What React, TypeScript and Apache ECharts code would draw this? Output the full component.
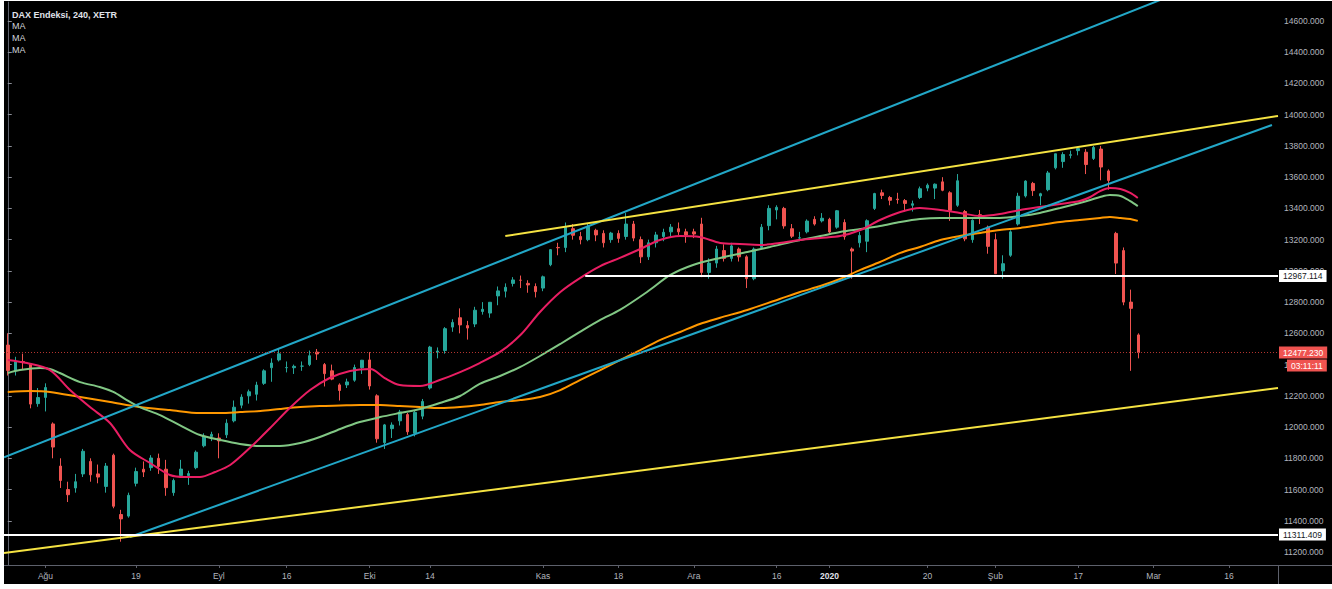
import React, { useEffect, useRef } from "react";
import * as echarts from "echarts";

// [open, high, low, close] per trading-day slot
const ohlc: number[][] = [
  [12525,12600,12330,12362],[12360,12450,12330,12419],[12420,12470,12370,12418],[12400,12410,12120,12147],
  [12150,12250,12130,12189],[12190,12280,12100,12253],[12020,12030,11800,11872],[11750,11800,11610,11658],
  [11600,11650,11520,11567],[11610,11700,11580,11650],[11700,11860,11680,11845],[11780,11800,11650,11694],
  [11700,11760,11640,11680],[11620,11770,11580,11750],[11820,11830,11480,11493],[11440,11470,11266,11412],
  [11430,11580,11420,11563],[11640,11740,11620,11715],[11730,11780,11680,11712],[11740,11820,11720,11802],
  [11800,11830,11700,11748],[11730,11790,11560,11612],[11580,11670,11560,11658],[11690,11790,11680,11731],
  [11690,11720,11630,11702],[11740,11850,11730,11839],[11880,11960,11870,11939],[11940,11970,11910,11953],
  [11930,11960,11800,11911],[11950,12050,11930,12025],[12040,12170,12030,12127],[12140,12210,12120,12192],
  [12200,12240,12150,12226],[12210,12290,12170,12269],[12280,12370,12270,12360],[12380,12440,12290,12410],
  [12430,12500,12420,12469],[12380,12420,12350,12381],[12380,12400,12340,12389],[12390,12420,12360,12390],
  [12400,12490,12390,12457],[12480,12500,12430,12468],[12400,12410,12260,12342],[12360,12400,12300,12307],
  [12270,12280,12170,12234],[12270,12310,12250,12289],[12300,12400,12290,12381],[12380,12430,12340,12428],
  [12430,12480,12240,12263],[12200,12210,11900,11925],[11900,12020,11860,12014],[11990,12030,11930,12013],
  [12040,12110,12010,12097],[12080,12090,11950,11970],[11960,12110,11940,12094],[12070,12180,12050,12164],
  [12250,12520,12240,12512],[12480,12510,12440,12487],[12490,12640,12470,12630],[12640,12690,12610,12670],
  [12700,12760,12600,12654],[12650,12680,12560,12634],[12660,12770,12640,12748],[12740,12800,12720,12754],
  [12730,12800,12700,12799],[12840,12900,12780,12872],[12870,12920,12830,12895],[12920,12960,12900,12942],
  [12940,12970,12890,12940],[12920,12940,12860,12910],[12900,12920,12830,12867],[12890,12970,12870,12962],
  [13040,13140,13030,13136],[13150,13180,13100,13148],[13150,13310,13120,13280],[13270,13300,13200,13228],
  [13220,13250,13170,13200],[13200,13300,13190,13283],[13260,13270,13190,13230],[13240,13260,13150,13180],
  [13200,13250,13180,13242],[13240,13260,13180,13208],[13220,13370,13200,13300],[13300,13320,13190,13210],
  [13200,13220,13050,13090],[13090,13200,13070,13180],[13180,13250,13150,13230],[13220,13270,13190,13247],
  [13250,13300,13220,13280],[13270,13310,13230,13250],[13250,13270,13180,13230],[13250,13270,13210,13236],
  [13300,13340,12960,12990],[12990,13080,12950,13050],[13050,13160,13020,13140],[13130,13170,13060,13080],
  [13080,13180,13060,13160],[13140,13150,13060,13090],[13090,13100,12890,12950],[12950,13150,12940,13140],
  [13150,13300,13140,13280],[13290,13420,13260,13400],[13390,13420,13330,13407],[13400,13410,13270,13288],
  [13270,13300,13210,13222],[13210,13250,13190,13212],[13250,13330,13240,13319],[13330,13350,13290,13300],
  [13320,13370,13310,13337],[13330,13340,13240,13249],[13280,13390,13270,13385],[13310,13330,13200,13219],
  [13140,13150,12950,13127],[13180,13250,13150,13227],[13190,13330,13120,13321],[13400,13500,13390,13495],
  [13500,13520,13460,13483],[13470,13480,13420,13452],[13460,13500,13430,13456],[13450,13460,13380,13432],
  [13420,13450,13380,13430],[13470,13540,13460,13526],[13530,13560,13510,13549],[13530,13560,13460,13555],
  [13570,13600,13510,13516],[13500,13510,13320,13388],[13420,13620,13410,13577],[13380,13390,13190,13205],
  [13200,13330,13180,13324],[13360,13390,13300,13345],[13280,13290,13110,13157],[13200,13240,12980,12982],
  [13000,13100,12950,13046],[13100,13260,13090,13250],[13300,13500,13290,13478],[13480,13580,13470,13575],
  [13560,13570,13480,13514],[13480,13500,13420,13494],[13520,13640,13510,13627],[13660,13750,13650,13750],
  [13700,13760,13660,13745],[13740,13770,13720,13744],[13770,13790,13740,13783],[13760,13780,13620,13681],
  [13720,13800,13710,13790],[13780,13800,13580,13665],[13640,13650,13520,13579],[13240,13250,12980,13050],
  [13130,13150,12780,12800],[12800,12880,12360,12760],[12590,12600,12440,12477],
];

const slotCount = 169;
const tickIndex = [5, 17, 28, 37, 48, 56, 71, 81, 91, 102, 109, 122, 131, 142, 152, 162];
const tickLabels = ["Ağu", "19", "Eyl", "16", "Eki", "14", "Kas", "18", "Ara", "16", "2020", "20", "Şub", "17", "Mar", "16"];
const yTicks = [11200, 11400, 11600, 11800, 12000, 12200, 12400, 12600, 12800, 13000, 13200, 13400, 13600, 13800, 14000, 14200, 14400, 14600];

// moving averages: [slot, value]
const maFast = [
  [0,12430],[2.55,12410],[5.6,12365],[8.26,12237],[10.9,12128],[13.56,12026],[16.2,11853],[18.87,11770],
  [21.5,11693],[23.5,11680],[25.5,11680],[27.5,11712],[29.5,11757],[32.1,11866],[34.8,11994],[37.4,12122],
  [40.1,12237],[42.7,12314],[45.4,12359],[48.1,12372],[50,12314],[52,12269],[54.7,12263],[57.3,12301],
  [60,12352],[62.6,12410],[65.3,12481],[68,12589],[70.6,12737],[73.3,12865],[75.9,12954],[78.6,13031],
  [81.2,13083],[83.9,13140],[86.5,13198],[89.2,13223],[91.8,13217],[94.5,13179],[97.1,13172],[99.8,13166],
  [102.4,13179],[105.1,13198],[107.8,13211],[110.4,13223],[113.1,13262],[115.7,13326],[118.4,13377],
  [121,13403],[123.7,13390],[126.3,13371],[129,13351],[131.6,13364],[134.3,13390],[136.9,13409],
  [139.6,13428],[142.2,13447],[143.6,13473],[144.9,13511],[146.2,13531],[147.6,13524],[148.9,13499],[149.9,13467],
];
const maMid = [
  [0,12346],[1.6,12365],[4.3,12378],[5.6,12372],[6.9,12346],[9.6,12288],[12.2,12257],[14,12225],
  [15.8,12173],[17.5,12128],[20.2,12077],[22.8,12013],[25.5,11949],[28.2,11917],[30.8,11892],[33.5,11879],
  [36.1,11879],[38.8,11898],[41.4,11936],[44.1,11988],[46.7,12032],[49.4,12064],[52,12090],[54.7,12116],
  [57.3,12154],[60,12199],[62.6,12276],[65.3,12327],[68,12385],[70.6,12455],[73.3,12532],[75.9,12609],
  [78.6,12686],[81.2,12750],[84.8,12865],[87.9,12974],[90.9,13038],[94.5,13083],[98.1,13121],[101.1,13153],
  [105.1,13198],[107.8,13223],[110.4,13249],[113.1,13268],[115.7,13287],[118.4,13313],[121,13332],
  [123.7,13339],[126.3,13339],[129,13339],[131.6,13339],[134.3,13351],[136.9,13371],[139.6,13403],
  [142.2,13435],[143.6,13454],[144.9,13473],[146.2,13486],[147.6,13480],[148.9,13447],[149.9,13415],
];
const maSlow = [
  [0,12225],[3,12231],[5.6,12225],[9.6,12192],[13.6,12160],[17.5,12128],[21.5,12109],[25.5,12090],
  [28.2,12090],[30.8,12096],[33.5,12103],[36.1,12116],[38.8,12128],[41.4,12135],[44.1,12138],[46.7,12141],
  [49.4,12141],[52,12135],[54.7,12128],[57.3,12122],[60,12128],[62.6,12141],[65.3,12160],[68,12173],
  [70.6,12192],[73.3,12237],[75.9,12301],[78.6,12365],[81.2,12429],[83.9,12493],[86.5,12557],[89.2,12609],
  [91.8,12660],[94.5,12700],[98.1,12750],[102.4,12820],[105.1,12865],[107.8,12903],[110.4,12948],
  [113.1,13006],[115.7,13057],[118.4,13115],[121,13153],[123.7,13198],[126.3,13223],[129,13243],
  [131.6,13262],[134.3,13275],[136.9,13294],[139.6,13313],[142.2,13326],[144.9,13339],[146.2,13345],
  [147.6,13339],[148.9,13332],[149.9,13320],
];

const channelUpper = [[-0.5, 11806], [168.5, 15033]];
const channelLower = [[16.2, 11296], [167.7, 13934]];
const wedgeLower = [[-0.5, 11194], [168.5, 12250]];
const wedgeUpper = [[66, 13223], [168.5, 13992]];
const resistanceLevel = 12967.114;
const resistanceStart = 76.6;
const supportLevel = 11311.409;
const lastPrice = 12477.23;
const countdown = "03:11:11";
const titleText = "DAX Endeksi, 240, XETR";
const maLabels = ["MA", "MA", "MA"];

const UP = "#26a69a";
const DOWN = "#ef5350";
const FONT = "Liberation Sans, Arial, sans-serif";

export default function App() {
  const ref = useRef<HTMLDivElement>(null);
  useEffect(() => {
    if (!ref.current) return;
    const chart = echarts.init(ref.current, undefined, { renderer: "svg" });
    const categories = Array.from({ length: slotCount }, (_, i) => "d" + i);
    const labelAt = (i: number) => {
      const k = tickIndex.indexOf(i);
      return k >= 0 ? tickLabels[k] : "";
    };
    const lineSeries = (data: number[][], color: string, z: number, extra: any = {}) => ({
      type: "line",
      xAxisIndex: 1,
      yAxisIndex: 0,
      data,
      showSymbol: false,
      symbol: "none",
      silent: true,
      z,
      lineStyle: { color, width: 2 },
      ...extra,
    });
    const boxLabel = (text: string, bg: string, fg: string) => ({
      show: true,
      position: "end",
      distance: 1,
      formatter: text,
      backgroundColor: bg,
      color: fg,
      padding: [2, 4, 1, 4],
      fontSize: 8.5,
      fontFamily: FONT,
    });
    chart.setOption({
      animation: false,
      backgroundColor: "#000000",
      grid: { left: 0, right: 54, top: 1, bottom: 19, containLabel: false },
      xAxis: [
        {
          type: "category",
          data: categories,
          boundaryGap: true,
          axisLine: { show: true, lineStyle: { color: "#5d606b", width: 1 } },
          axisTick: {
            show: true,
            alignWithLabel: true,
            length: 3,
            interval: (i: number) => tickIndex.indexOf(i) >= 0,
            lineStyle: { color: "#5d606b" },
          },
          axisLabel: {
            interval: (i: number) => tickIndex.indexOf(i) >= 0,
            formatter: (_v: string, i: number) => {
              const t = labelAt(i);
              return t === "2020" ? "{b|2020}" : t;
            },
            color: "#b2b5be",
            fontSize: 8.5,
            fontFamily: FONT,
            margin: 6,
            rich: { b: { fontWeight: "bold", color: "#e0e3eb", fontSize: 8.5, fontFamily: FONT } },
          },
          splitLine: { show: false },
        },
        {
          type: "value",
          min: -0.5,
          max: slotCount - 0.5,
          show: false,
          splitLine: { show: false },
        },
      ],
      yAxis: {
        type: "value",
        position: "right",
        min: 11116.8,
        max: 14721.7,
        splitLine: { show: false },
        axisLine: { show: true, lineStyle: { color: "#5d606b" } },
        axisTick: { show: true, customValues: yTicks, length: 4, lineStyle: { color: "#8a8d96" } },
        axisLabel: {
          customValues: yTicks,
          formatter: (v: number) => v.toFixed(3),
          color: "#b2b5be",
          fontSize: 8.5,
          fontFamily: FONT,
          margin: 6,
        },
      },
      series: [
        {
          type: "candlestick",
          xAxisIndex: 0,
          yAxisIndex: 0,
          data: ohlc.map(([o, h, l, c]) => [o, c, l, h]),
          barWidth: 3,
          z: 2,
          silent: true,
          itemStyle: { color: UP, color0: DOWN, borderColor: UP, borderColor0: DOWN, borderWidth: 1 },
        },
        lineSeries(maSlow, "#ff9800", 3, { smooth: 0.3 }),
        lineSeries(maMid, "#81c784", 3, { smooth: 0.3 }),
        lineSeries(maFast, "#e91e63", 3, { smooth: 0.3 }),
        lineSeries(channelUpper, "#22a7c7", 4),
        lineSeries(channelLower, "#22a7c7", 4),
        lineSeries(wedgeUpper, "#f5e342", 4),
        lineSeries(wedgeLower, "#f5e342", 4, {
          markLine: {
            silent: true,
            symbol: ["none", "none"],
            animation: false,
            z: 10,
            data: [
              {
                yAxis: lastPrice,
                lineStyle: { color: "#b2342f", type: [1, 2], width: 1 },
                label: boxLabel(lastPrice.toFixed(3), DOWN, "#ffffff"),
              },
              {
                yAxis: lastPrice,
                lineStyle: { color: "rgba(0,0,0,0)", width: 1, type: "solid" },
                label: {
                  show: true,
                  position: "end",
                  distance: 1,
                  formatter: "{t|" + countdown + "}",
                  padding: [26, 0, 0, 8],
                  rich: {
                    t: { backgroundColor: DOWN, color: "#ffffff", padding: [2, 4, 1, 4], fontSize: 8.5, fontFamily: FONT },
                  },
                },
              },
              [
                {
                  coord: [resistanceStart, resistanceLevel],
                  lineStyle: { color: "#ffffff", width: 2, type: "solid" },
                  label: boxLabel(resistanceLevel.toFixed(3), "#ffffff", "#131722"),
                },
                { coord: [slotCount - 0.5, resistanceLevel] },
              ],
              {
                yAxis: supportLevel,
                lineStyle: { color: "#ffffff", width: 2, type: "solid" },
                label: boxLabel(supportLevel.toFixed(3), "#ffffff", "#131722"),
              },
            ],
          },
        }),
      ],
      graphic: [
        {
          type: "text",
          left: 8,
          top: 9,
          silent: true,
          style: { text: titleText, fill: "#e0e3eb", font: "bold 9px " + FONT },
        },
        ...maLabels.map((t, k) => ({
          type: "text",
          left: 8,
          top: 20 + k * 12,
          silent: true,
          style: { text: t, fill: "#d1d4dc", font: "9px " + FONT },
        })),
        {
          type: "line",
          silent: true,
          shape: { x1: 1274, y1: 564.5, x2: 1328, y2: 564.5 },
          style: { stroke: "#5d606b", lineWidth: 1 },
        },
        {
          type: "line",
          silent: true,
          shape: { x1: 1274.5, y1: 564, x2: 1274.5, y2: 583 },
          style: { stroke: "#5d606b", lineWidth: 1 },
        },
      ],
    });
    return () => chart.dispose();
  }, []);
  return (
    <div
      ref={ref}
      style={{ position: "fixed", left: 4, top: 1, width: 1328, height: 583, background: "#000" }}
    />
  );
}
